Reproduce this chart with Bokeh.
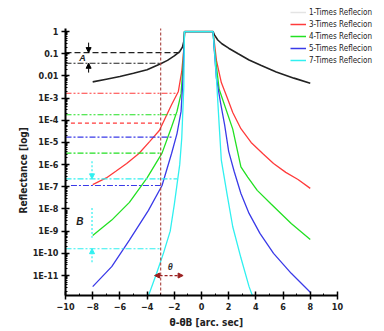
import numpy as np
from bokeh.plotting import figure
from bokeh.models import (Range1d, FixedTicker, CustomJSTickFormatter, Legend, LegendItem,
                          Arrow, NormalHead, Label, Title)
from bokeh.embed import file_html
from bokeh.resources import INLINE

# ---- data (x in arc sec, values are log10 of reflectance) ----
x_r1 = [-8, -7, -6, -5, -4, -3, -2.5, -2, -1.6, -1.4, -1.28, -1.24, 0.85, 0.95, 1.2, 1.5, 2, 2.7, 3.5, 4.4, 5.5, 6.8, 8]
lg_r1 = [-2.27, -2.15, -2.03, -1.88, -1.72, -1.45, -1.3, -1.1, -0.9, -0.7, -0.4, 0, 0, -0.15, -0.38, -0.55, -0.75, -1.0, -1.28, -1.53, -1.82, -2.1, -2.33]

x_r3 = [-8, -7, -6.3, -5.5, -4.6, -3.8, -3.1, -2.2, -1.7, -1.45, -1.3, -1.24, 0.85, 0.95, 1.1, 1.46, 1.9, 2.3, 2.9, 3.65, 4.5, 5.3, 6.2, 7.1, 8]
lg_r3 = [-6.9, -6.6, -6.3, -5.95, -5.5, -4.95, -4.46, -3.3, -2.7, -1.8, -0.8, 0, 0, -0.5, -1.3, -2.3, -3.0, -3.65, -4.38, -5.0, -5.5, -5.95, -6.35, -6.67, -7.07]

x_r4 = [-8, -7.3, -6.6, -5.3, -4.0, -2.9, -2.2, -1.8, -1.5, -1.35, -1.25, 0.85, 0.95, 1.3, 2.3, 2.9, 3.4, 4.1, 5.1, 6.6, 8]
lg_r4 = [-9.2, -8.85, -8.5, -7.7, -6.6, -5.48, -4.3, -3.6, -2.8, -1.5, 0, 0, -0.8, -2.6, -4.4, -6.1, -6.56, -7.16, -7.76, -8.65, -9.37]

x_r5 = [-8, -6.6, -5.3, -3.9, -2.9, -2.2, -1.8, -1.5, -1.35, -1.25, 0.85, 0.95, 1.1, 1.4, 1.7, 2.0, 2.4, 2.9, 3.5, 4.3, 5.3, 6.6, 8]
lg_r5 = [-11.5, -10.6, -9.4, -8.06, -6.94, -5.5, -4.6, -3.6, -2.0, 0, 0, -0.9, -2.1, -3.2, -4.2, -5.4, -6.3, -7.3, -8.2, -9.1, -10.0, -10.9, -11.75]

x_r7 = [-3.95, -3.3, -2.8, -2.3, -2.0, -1.8, -1.6, -1.45, -1.3, -1.25, 0.85, 0.95, 1.1, 1.3, 1.46, 1.9, 2.3, 2.9, 3.5, 3.8]
lg_r7 = [-12.0, -10.9, -10.0, -9.0, -7.8, -6.9, -6.0, -4.8, -2.5, 0, 0, -0.8, -2.1, -4.2, -5.8, -7.4, -8.8, -10.2, -11.5, -12.0]

series_names = ["1-Times Reflecion", "3-Times Reflecion", "4-Times Reflecion", "5-Times Reflecion", "7-Times Reflecion"]
series_x = [x_r1, x_r3, x_r4, x_r5, x_r7]
series_lg = [lg_r1, lg_r3, lg_r4, lg_r5, lg_r7]

# reference levels (log10 R) and where they stop
level_upper = [-0.95, -2.78, -3.75, -4.76, -6.64]
upper_end_x = [-1.6, -1.75, -1.75, -2.1, -1.8]
level_lower = [-1.43, -4.13, -5.48, -6.94, -9.79]
lower_start_x = [-10, -9.6, -10, -9.6, -10]
theta_mark = -3.0

x_tick_vals = list(range(-10, 11, 2))
y_tick_exps = list(range(-11, 1))

# ---- styles ----
colors = ["#222222", "#ff3b3b", "#22e022", "#3a3ae8", "#30f0f0"]
legend_colors = ["#e4e4e4", "#ff3b3b", "#22e022", "#3a3ae8", "#30f0f0"]
widths = [1.6, 1.3, 1.3, 1.3, 1.3]
upper_dash = ["6 3", "6 2 2 2 2 2", "6 2 2 2 2 2", "6 2 2 2", "6 2 2 2"]
lower_dash = ["6 2 2 2", "4 3", "6 2 2 2", "6 2 2 2", "6 2 2 2"]

FONT = "Liberation Sans Narrow, Arial Narrow, DejaVu Sans Condensed, Liberation Sans, sans-serif"

# axes are bounded to [-10,10] x [1e-11.9, 1e0.14]; the frame extends past them
# so that the legend (which overhangs the axes) is not clipped
p = figure(width=384, height=331, output_backend="svg", toolbar_location=None,
           y_axis_type="log",
           x_range=Range1d(-10, 13.46), y_range=Range1d(10 ** -11.9, 10 ** 1.4),
           min_border_left=65, min_border_right=0, min_border_top=0, min_border_bottom=36)
p.outline_line_color = None
p.grid.visible = False
p.background_fill_color = "white"

# curves
for xs, lg, c, w in zip(series_x, series_lg, colors, widths):
    p.line(xs, np.power(10.0, lg), line_color=c, line_width=w)

# horizontal level lines
for lv, xe, c, d in zip(level_upper, upper_end_x, colors, upper_dash):
    p.line([-10, xe], [10 ** lv, 10 ** lv], line_color=c, line_width=1.1, line_dash=d)
for lv, xs0, c, d in zip(level_lower, lower_start_x, colors, lower_dash):
    p.line([xs0, theta_mark], [10 ** lv, 10 ** lv], line_color=c, line_width=1.1, line_dash=d)

# vertical marker (from axis bottom to axis top)
p.segment(x0=[theta_mark], y0=[10 ** -11.9], x1=[theta_mark], y1=[10 ** 0.14],
          line_color="#a8403c", line_dash="3 2", line_width=1.1)

# black A arrows
p.add_layout(Arrow(end=NormalHead(size=5, fill_color="black", line_color="black"),
                   x_start=-8.3, y_start=10 ** -0.5, x_end=-8.3, y_end=10 ** level_upper[0],
                   line_color="black", line_width=1))
p.add_layout(Arrow(end=NormalHead(size=5, fill_color="black", line_color="black"),
                   x_start=-8.3, y_start=10 ** -1.85, x_end=-8.3, y_end=10 ** level_lower[0],
                   line_color="black", line_width=1))
p.add_layout(Label(x=-8.75, y=10 ** -1.2, text="A", text_font_size="9px", text_font_style="bold italic",
                   text_align="center", text_baseline="middle", text_color="#222222"))

# cyan B arrows
cy = colors[4]
p.add_layout(Arrow(end=NormalHead(size=5, fill_color=cy, line_color=cy),
                   x_start=-8.05, y_start=10 ** -5.85, x_end=-8.05, y_end=10 ** level_upper[4],
                   line_color=cy, line_width=1.2, line_dash="2 2"))
p.add_layout(Arrow(end=NormalHead(size=5, fill_color=cy, line_color=cy),
                   x_start=-8.05, y_start=10 ** -10.4, x_end=-8.05, y_end=10 ** level_lower[4],
                   line_color=cy, line_width=1.2, line_dash="2 2"))
p.segment(x0=[-8.05], y0=[10 ** -7.95], x1=[-8.05], y1=[10 ** -9.3], line_color=cy,
          line_width=1.2, line_dash="2 2")
p.add_layout(Label(x=-8.95, y=10 ** -8.55, text="B", text_font_size="10px", text_font_style="bold italic",
                   text_align="center", text_baseline="middle", text_color="#222222"))

# theta double arrow
dr = "#9a2020"
p.add_layout(Arrow(start=NormalHead(size=5, fill_color=dr, line_color=dr),
                   end=NormalHead(size=5, fill_color=dr, line_color=dr),
                   x_start=-3.45, y_start=1e-11, x_end=-1.35, y_end=1e-11,
                   line_color=dr, line_width=1.2, line_dash="3 2"))
p.add_layout(Label(x=-2.3, y=10 ** -10.6, text="θ", text_font_size="9px", text_font_style="bold italic",
                   text_align="center", text_baseline="middle", text_color="#333333"))

# axes
for ax in (p.xaxis[0], p.yaxis[0]):
    ax.axis_line_width = 2
    ax.axis_line_color = "black"
    ax.major_tick_line_width = 1.5
    ax.major_tick_in = 4
    ax.major_tick_out = 4
    ax.minor_tick_in = 2
    ax.minor_tick_out = 0
    ax.major_label_text_font = FONT
    ax.major_label_text_font_size = "9px"
    ax.major_label_text_font_style = "bold"
    ax.major_label_text_color = "#222222"
    ax.major_label_standoff = 3

p.xaxis.bounds = (-10, 10)
p.xaxis.ticker = FixedTicker(ticks=x_tick_vals, minor_ticks=[v + 1 for v in x_tick_vals[:-1]])

p.yaxis.bounds = (10 ** -11.9, 10 ** 0.14)
minor = [m * 10.0 ** e for e in range(-12, 0) for m in (2, 3, 4, 5, 6, 7, 8, 9)]
p.yaxis.ticker = FixedTicker(ticks=[10.0 ** e for e in y_tick_exps], minor_ticks=minor)
p.yaxis.formatter = CustomJSTickFormatter(code="""
const e = Math.round(Math.log10(tick));
if (e === 0) return "1";
if (e === -1) return "0.1";
if (e === -2) return "0.01";
return "1E" + e;
""")

# axis titles (placed as side titles so they centre on the bounded axes, not the wider frame)
p.add_layout(Title(text="θ-θB [arc. sec]", align="left", offset=104, standoff=4,
                   text_font=FONT, text_font_size="10px", text_font_style="bold",
                   text_color="#222222"), "below")
p.add_layout(Title(text="Reflectance [log]", align="left", offset=82, standoff=2,
                   text_font=FONT, text_font_size="10px", text_font_style="bold",
                   text_color="#222222"), "left")

# legend
items = []
for name, c in zip(series_names, legend_colors):
    r = p.line([0], [1], line_color=c, line_width=1.5, visible=False)
    items.append(LegendItem(label=name, renderers=[r]))
legend = Legend(items=items, location=(225, 229), orientation="vertical",
                label_text_font_size="8px", label_text_font=FONT, label_text_color="#222222",
                glyph_width=16, glyph_height=12, label_height=12, spacing=0, padding=0, margin=0,
                label_standoff=3, background_fill_color="white", background_fill_alpha=1.0,
                border_line_alpha=0)
p.add_layout(legend, "center")

open("out.html", "w").write(file_html(p, INLINE))
